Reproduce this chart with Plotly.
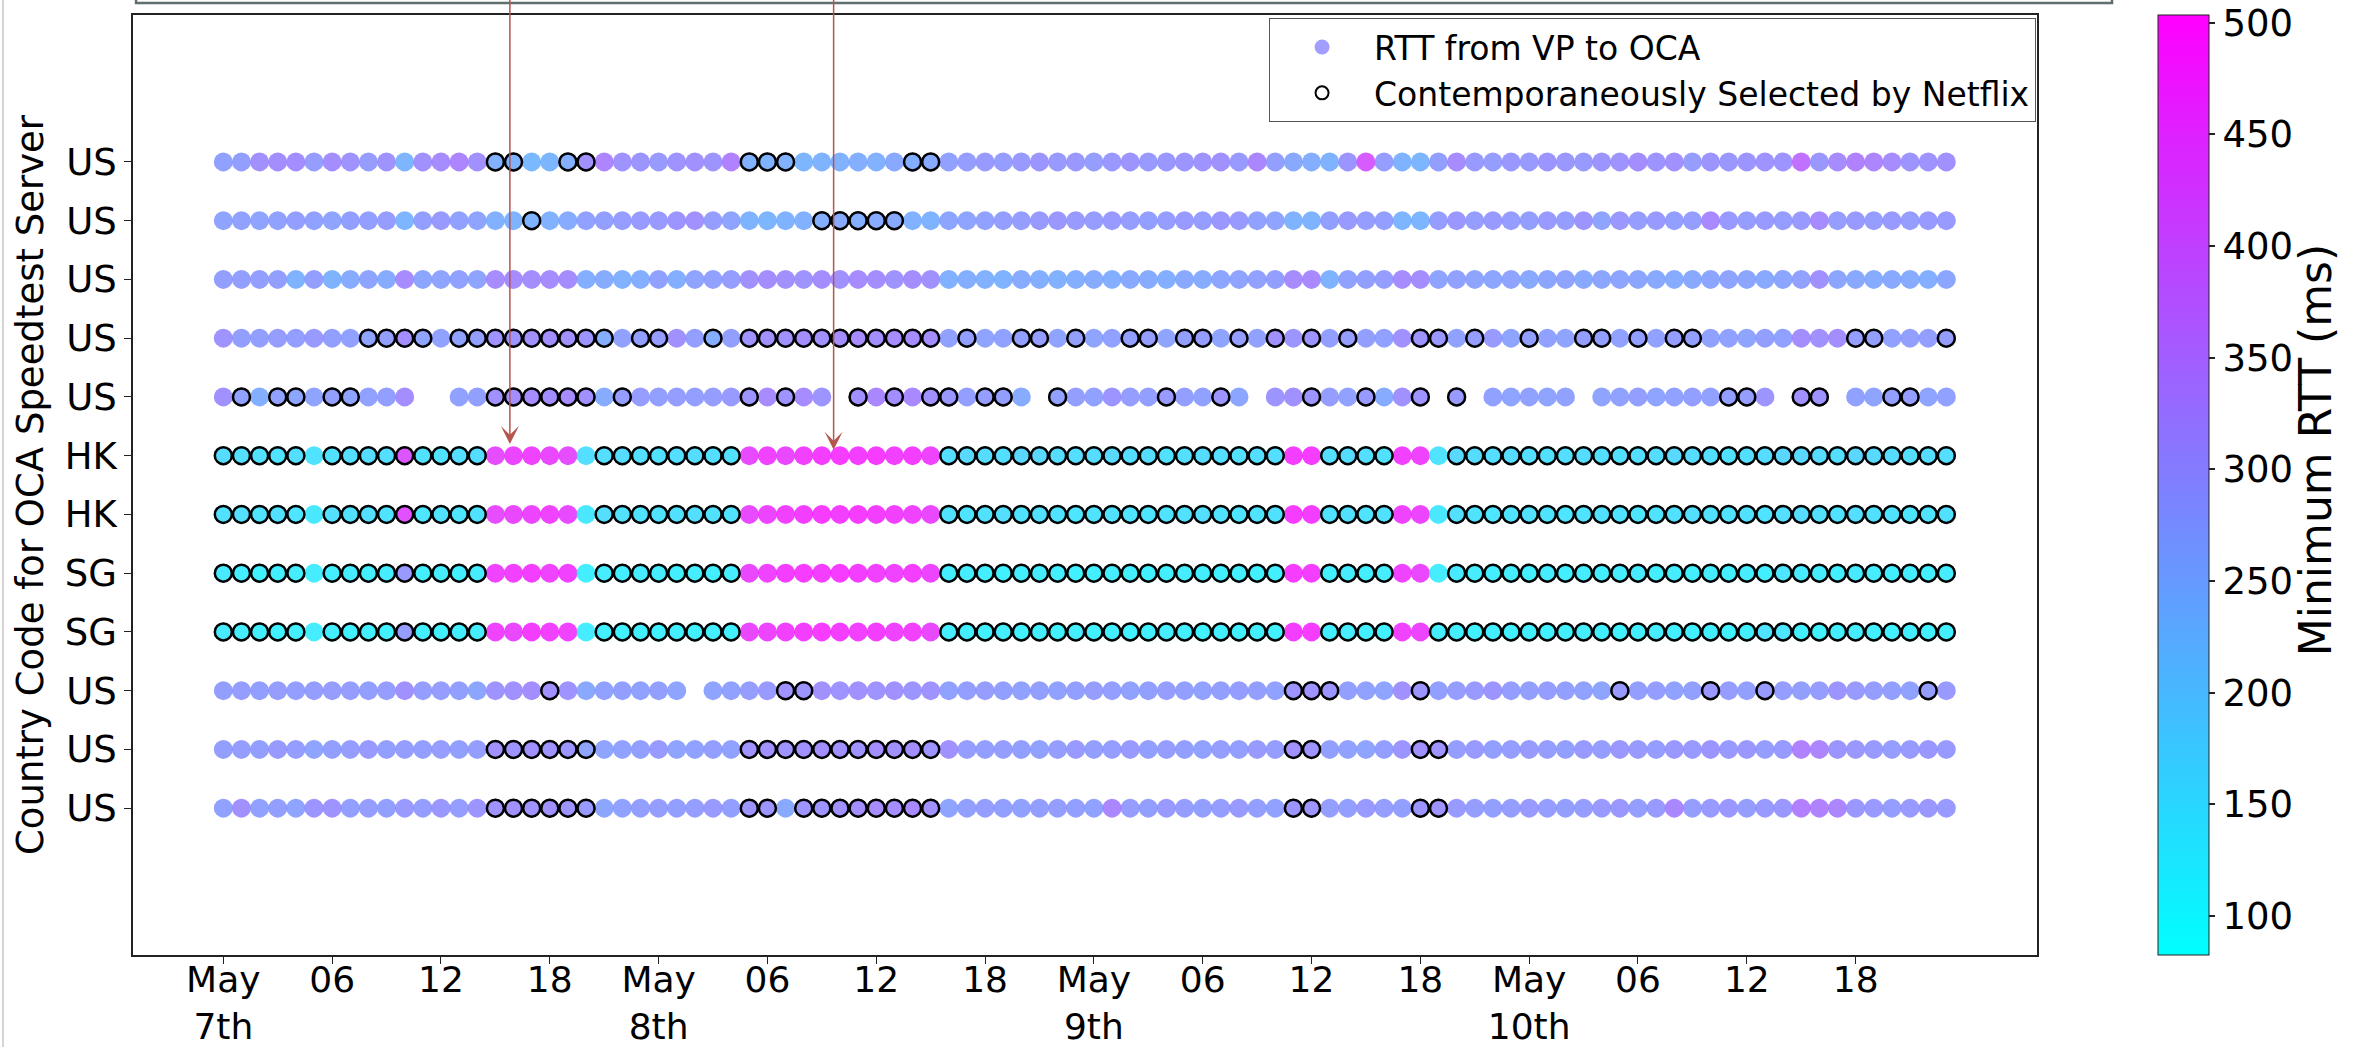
import pandas as pd
import plotly.graph_objects as go

# ---------------- data (rows listed top -> bottom) ----------------
row_labels = ["US", "US", "US", "US", "US", "HK", "HK", "SG", "SG", "US", "US", "US"]
start_time = "2021-05-07 00:00"
n_hours = 96

rtt_r1 = [275, 280, 310, 315, 315, 285, 315, 305, 285, 305, 235, 310,
          320, 335, 310, 245, 240, 230, 235, 250, 310, 335, 305, 300,
          290, 305, 310, 300, 340, 245, 240, 245, 235, 240, 245, 250,
          245, 260, 250, 255, 275, 285, 290, 285, 290, 300, 290, 295,
          285, 295, 300, 290, 295, 300, 305, 310, 290, 330, 280, 260,
          250, 240, 300, 420, 285, 240, 235, 280, 320, 290, 285, 295,
          290, 300, 295, 290, 300, 305, 315, 300, 310, 285, 300, 295,
          300, 305, 300, 375, 295, 320, 340, 335, 320, 300, 305, 310]
rtt_r2 = [270, 275, 270, 275, 280, 275, 270, 280, 280, 285, 235, 280,
          290, 275, 270, 245, 240, 240, 245, 255, 275, 280, 285, 290,
          290, 300, 310, 285, 270, 240, 235, 240, 245, 250, 255, 250,
          255, 260, 245, 240, 265, 270, 275, 280, 285, 290, 295, 290,
          285, 290, 285, 280, 285, 290, 285, 295, 290, 275, 270, 240,
          240, 280, 290, 285, 280, 235, 235, 285, 295, 285, 290, 285,
          280, 290, 285, 300, 270, 295, 285, 290, 280, 285, 325, 290,
          285, 290, 285, 290, 320, 285, 290, 285, 290, 285, 290, 290]
rtt_r3 = [280, 280, 280, 280, 240, 280, 240, 255, 270, 255, 320, 265,
          270, 275, 270, 320, 320, 315, 320, 320, 250, 255, 245, 250,
          275, 250, 270, 275, 285, 310, 315, 310, 305, 315, 310, 320,
          315, 305, 315, 310, 245, 250, 245, 240, 255, 250, 245, 250,
          255, 250, 260, 255, 250, 260, 255, 265, 270, 275, 280, 320,
          325, 240, 275, 280, 285, 320, 315, 270, 275, 270, 265, 270,
          260, 265, 270, 260, 265, 270, 265, 260, 255, 260, 265, 270,
          265, 260, 265, 275, 310, 265, 260, 255, 260, 255, 250, 265]
rtt_r4 = [305, 280, 280, 285, 280, 290, 280, 275, 270, 280, 315, 270,
          275, 275, 280, 305, 300, 310, 315, 310, 300, 250, 275, 280,
          285, 310, 280, 250, 280, 305, 310, 310, 315, 310, 315, 320,
          315, 320, 320, 315, 275, 280, 270, 275, 280, 285, 270, 280,
          270, 275, 280, 285, 270, 280, 285, 270, 285, 275, 310, 300,
          300, 280, 285, 280, 275, 310, 305, 295, 275, 285, 290, 270,
          280, 275, 270, 285, 280, 275, 280, 275, 285, 280, 275, 275,
          270, 280, 275, 315, 310, 315, 285, 280, 275, 280, 280, 285]
rtt_r5 = [310, 275, 250, 275, 265, 270, 280, 270, 275, 280, 315, None,
          None, 275, 280, 310, 315, 320, 315, 320, 310, 255, 285, 285,
          280, 285, 280, 285, 290, 300, 320, 305, 320, 300, None, 310,
          330, 315, 325, 310, 295, 280, 285, 280, 255, None, 275, 280,
          275, 300, 285, 280, 290, 280, 275, 300, 265, None, 300, 310,
          300, 285, 275, 290, 255, 310, 305, None, 290, None, 275, 270,
          275, 270, 275, None, 270, 275, 280, 270, 275, 280, 275, 280,
          285, 300, None, 310, 305, None, 275, 270, 280, 285, 270, 275]
rtt_r6 = [155, 150, 145, 140, 150, 140, 145, 150, 155, 150, 430, 145,
          140, 150, 150, 450, 465, 470, 460, 450, 150, 150, 155, 150,
          145, 150, 155, 150, 145, 455, 470, 460, 475, 480, 485, 480,
          485, 475, 480, 470, 150, 160, 155, 150, 165, 160, 155, 150,
          155, 160, 150, 155, 145, 150, 155, 150, 145, 150, 150, 480,
          485, 150, 155, 150, 145, 475, 470, 140, 160, 155, 150, 155,
          150, 145, 150, 155, 150, 145, 150, 155, 160, 155, 150, 145,
          150, 155, 165, 160, 155, 150, 165, 160, 155, 150, 155, 150]
rtt_r7 = [145, 150, 140, 145, 135, 130, 150, 145, 150, 140, 440, 135,
          140, 135, 140, 450, 460, 465, 470, 455, 130, 150, 145, 140,
          140, 145, 150, 145, 140, 455, 465, 475, 480, 485, 480, 485,
          480, 475, 470, 460, 145, 140, 145, 150, 140, 145, 140, 135,
          140, 145, 140, 135, 140, 145, 150, 140, 135, 140, 145, 485,
          480, 140, 145, 140, 145, 470, 465, 130, 150, 140, 135, 140,
          145, 140, 135, 140, 145, 140, 135, 140, 145, 150, 145, 140,
          145, 140, 150, 155, 145, 140, 150, 145, 140, 135, 140, 145]
rtt_r8 = [125, 115, 110, 115, 120, 120, 115, 120, 115, 120, 290, 115,
          120, 115, 120, 470, 475, 480, 470, 475, 115, 120, 115, 125,
          120, 115, 120, 115, 120, 460, 470, 480, 485, 480, 485, 480,
          475, 470, 480, 465, 115, 120, 115, 110, 115, 120, 115, 110,
          115, 120, 115, 110, 115, 120, 115, 110, 115, 110, 115, 485,
          480, 115, 120, 115, 120, 470, 460, 120, 125, 120, 115, 120,
          115, 120, 115, 120, 115, 120, 125, 115, 120, 115, 120, 115,
          120, 115, 135, 125, 120, 115, 125, 120, 115, 120, 115, 120]
rtt_r9 = [125, 120, 115, 110, 115, 120, 115, 110, 115, 110, 285, 115,
          110, 115, 120, 470, 460, 480, 475, 470, 120, 115, 110, 115,
          110, 115, 110, 115, 110, 460, 465, 475, 480, 485, 480, 475,
          480, 470, 475, 460, 120, 115, 110, 115, 110, 115, 110, 115,
          110, 115, 110, 115, 120, 115, 110, 115, 110, 115, 110, 480,
          485, 115, 120, 115, 110, 470, 465, 120, 115, 110, 115, 110,
          115, 110, 115, 120, 115, 110, 115, 120, 115, 110, 115, 110,
          115, 140, 135, 115, 110, 115, 120, 115, 110, 115, 110, 115]
rtt_r10 = [280, 285, 280, 285, 280, 285, 285, 285, 280, 285, 310, 285,
           285, 280, 265, 305, 310, 315, 310, 305, 260, 275, 280, 275,
           280, 270, None, 270, 275, 285, 290, 305, 300, 310, 305, 310,
           305, 310, 300, 305, 275, 280, 285, 280, 275, 280, 275, 280,
           285, 280, 275, 280, 285, 280, 275, 280, 285, 280, 275, 300,
           305, 300, 280, 275, 270, 310, 300, 280, 285, 290, 300, 285,
           280, 285, 280, 275, 270, 290, 280, 285, 275, 280, 295, 285,
           280, 290, 285, 280, 285, 300, 290, 285, 280, 275, 285, 290]
rtt_r11 = [280, 285, 280, 290, 285, 270, 280, 285, 290, 280, 285, 280,
           285, 280, 285, 310, 305, 310, 305, 300, 270, 270, 275, 280,
           290, 270, 275, 280, 275, 305, 310, 305, 310, 315, 310, 305,
           315, 310, 315, 305, 310, 285, 280, 285, 280, 275, 285, 290,
           280, 285, 290, 280, 285, 280, 275, 285, 280, 290, 285, 310,
           305, 280, 275, 270, 280, 300, 310, 305, 285, 290, 280, 285,
           290, 285, 280, 290, 285, 295, 290, 285, 295, 290, 300, 290,
           295, 285, 290, 340, 335, 300, 295, 290, 285, 290, 295, 290]
rtt_r12 = [275, 310, 275, 280, 270, 300, 305, 280, 285, 280, 290, 285,
           295, 285, 300, 305, 310, 305, 310, 305, 290, 265, 275, 280,
           285, 280, 285, 290, 280, 305, 300, 260, 300, 305, 310, 315,
           320, 315, 325, 310, 270, 280, 285, 280, 275, 280, 285, 280,
           275, 330, 285, 280, 290, 285, 280, 285, 290, 280, 275, 300,
           305, 285, 280, 290, 285, 280, 300, 305, 290, 285, 280, 285,
           290, 285, 280, 285, 290, 295, 285, 290, 330, 285, 290, 295,
           285, 290, 295, 345, 340, 335, 295, 290, 285, 290, 295, 290]

# hours (index from May 7th 00:00) at which Netflix selected the server
sel_r1 = [15, 16, 19, 20, 29, 30, 31, 38, 39]
sel_r2 = [17, 33, 34, 35, 36, 37]
sel_r3 = []
sel_r4 = [8, 9, 10, 11, 13, 14, 15, 16, 17, 18, 19, 20, 21, 23, 24, 27, 29, 30, 31, 32,
          33, 34, 35, 36, 37, 38, 39, 41, 44, 45, 47, 50, 51, 53, 54, 56, 58, 60, 62,
          66, 67, 69, 72, 75, 76, 78, 80, 81, 90, 91, 95]
sel_r5 = [1, 3, 4, 6, 7, 15, 16, 17, 18, 19, 20, 22, 29, 31, 35, 37, 39, 40, 42, 43,
          46, 52, 55, 60, 63, 66, 68, 83, 84, 87, 88, 92, 93]
sel_r6 = [0, 1, 2, 3, 4, 6, 7, 8, 9, 10, 11, 12, 13, 14, 21, 22, 23, 24, 25, 26, 27, 28,
          40, 41, 42, 43, 44, 45, 46, 47, 48, 49, 50, 51, 52, 53, 54, 55, 56, 57, 58,
          61, 62, 63, 64, 68, 69, 70, 71, 72, 73, 74, 75, 76, 77, 78, 79, 80, 81, 82,
          83, 84, 85, 86, 87, 88, 89, 90, 91, 92, 93, 94, 95]
sel_r7 = list(sel_r6)
sel_r8 = list(sel_r6)
sel_r9 = [0, 1, 2, 3, 4, 6, 7, 8, 9, 10, 11, 12, 13, 14, 21, 22, 23, 24, 25, 26, 27, 28,
          40, 41, 42, 43, 44, 45, 46, 47, 48, 49, 50, 51, 52, 53, 54, 55, 56, 57, 58,
          61, 62, 63, 64, 67, 68, 69, 70, 71, 72, 73, 74, 75, 76, 77, 78, 79, 80, 81, 82,
          83, 84, 85, 86, 87, 88, 89, 90, 91, 92, 93, 94, 95]
sel_r10 = [18, 31, 32, 59, 60, 61, 66, 77, 82, 85, 94]
sel_r11 = [15, 16, 17, 18, 19, 20, 29, 30, 31, 32, 33, 34, 35, 36, 37, 38, 39, 59, 60, 66, 67]
sel_r12 = [15, 16, 17, 18, 19, 20, 29, 30, 32, 33, 34, 35, 36, 37, 38, 39, 59, 60, 66, 67]

rtt_rows = [rtt_r1, rtt_r2, rtt_r3, rtt_r4, rtt_r5, rtt_r6, rtt_r7, rtt_r8, rtt_r9,
            rtt_r10, rtt_r11, rtt_r12]
sel_rows = [sel_r1, sel_r2, sel_r3, sel_r4, sel_r5, sel_r6, sel_r7, sel_r8, sel_r9,
            sel_r10, sel_r11, sel_r12]

# x tick labels
tick_hours = [0, 6, 12, 18, 24, 30, 36, 42, 48, 54, 60, 66, 72, 78, 84, 90]
tick_text = ["May<br>7th", "06", "12", "18", "May<br>8th", "06", "12", "18",
             "May<br>9th", "06", "12", "18", "May<br>10th", "06", "12", "18"]
day_hours = [0, 24, 48, 72]
cbar_ticks = [100, 150, 200, 250, 300, 350, 400, 450, 500]
rtt_min, rtt_max = 82.5, 503.4
cbar_title = "Minimum RTT (ms)"

# annotation arrows (time, tip row-position)
arrow_times = ["2021-05-07 15:48", "2021-05-08 09:39"]
arrow_tips = [6.2, 6.1]

# ---------------- build ----------------
t0 = pd.Timestamp(start_time)
hours = pd.date_range(t0, periods=n_hours, freq="h")
n_rows = len(row_labels)

xs, ys, cs = [], [], []
sx, sy = [], []
for i, (vals, sel) in enumerate(zip(rtt_rows, sel_rows)):
    ypos = n_rows - 1 - i
    for h, v in enumerate(vals):
        if v is None:
            continue
        xs.append(hours[h]); ys.append(ypos); cs.append(v)
    for h in sel:
        if vals[h] is not None:
            sx.append(hours[h]); sy.append(ypos)

cool = [[0.0, "rgb(0,255,255)"], [1.0, "rgb(255,0,255)"]]
FONT = "DejaVu Sans"

fig = go.Figure()
fig.add_trace(go.Scatter(
    x=xs, y=ys, mode="markers", showlegend=False,
    marker=dict(size=19, color=cs, colorscale=cool, cmin=rtt_min, cmax=rtt_max,
                opacity=0.8, line=dict(width=0),
                colorbar=dict(
                    tickvals=cbar_ticks, tickfont=dict(size=37, family=FONT, color="black"),
                    thickness=51, len=1, lenmode="fraction", x=1.0636, xanchor="left",
                    y=0.5, yanchor="middle", ypad=0, xpad=0,
                    outlinewidth=1, outlinecolor="#222",
                    ticks="outside", ticklen=6, tickcolor="#222", tickwidth=1.5)),
))
fig.add_trace(go.Scatter(
    x=sx, y=sy, mode="markers", showlegend=False,
    marker=dict(size=17, symbol="circle-open", color="black", line=dict(width=2.5)),
))
# legend entries
fig.add_trace(go.Scatter(
    x=[None], y=[None], mode="markers", name="RTT from VP to OCA", xaxis="x2",
    marker=dict(size=15, color="#a19eff"),
))
fig.add_trace(go.Scatter(
    x=[None], y=[None], mode="markers", name="Contemporaneously Selected by Netflix",
    xaxis="x2",
    marker=dict(size=13, symbol="circle-open", color="black", line=dict(width=2)),
))

x_range = [t0 - pd.Timedelta(hours=4.98), t0 + pd.Timedelta(hours=100.0)]

fig.update_layout(
    width=2361, height=1047,
    margin=dict(l=133, r=324, t=15, b=92, autoexpand=False),
    paper_bgcolor="white", plot_bgcolor="white",
    font=dict(family=FONT, size=37, color="black"),
    xaxis=dict(
        range=x_range, tickvals=[hours[h] for h in tick_hours], ticktext=tick_text,
        showgrid=False, zeroline=False, showline=True, mirror=True,
        linecolor="#222", linewidth=1.5, ticks="outside", ticklen=7,
        tickcolor="#222", tickwidth=1.2, tickfont=dict(size=36), tickangle=0,
        ticklabelstandoff=-15,
    ),
    xaxis2=dict(
        overlaying="x", matches="x", range=x_range,
        tickvals=[hours[h] for h in day_hours], showticklabels=False, ticks="",
        showgrid=True, gridcolor="#c8c8c8", gridwidth=1.5, griddash="18px,4px",
        showline=False, zeroline=False,
    ),
    yaxis=dict(
        range=[-2.5, 13.5], tickvals=list(range(n_rows)),
        ticktext=list(reversed(row_labels)), showgrid=False, zeroline=False,
        showline=True, mirror=True, linecolor="#222", linewidth=1.5,
        ticks="outside", ticklen=7, tickcolor="#222", tickwidth=1.2,
        tickfont=dict(size=37),
        title=dict(text="Country Code for OCA Speedtest Server", font=dict(size=37),
                   standoff=10),
    ),
    legend=dict(
        x=0.9995, xanchor="right", y=0.9968, yanchor="top",
        bgcolor="rgba(255,255,255,0.8)", bordercolor="#555", borderwidth=1,
        font=dict(size=33, family=FONT, color="black"), itemsizing="trace",
        itemwidth=94, tracegroupgap=0,
    ),
    shapes=[
        dict(type="rect", xref="paper", yref="paper", x0=0.0016, x1=1.0394,
             y0=1.0128, y1=1.3, line=dict(color="#5f6e6e", width=2.5),
             fillcolor="rgba(0,0,0,0)", layer="above"),
        dict(type="line", xref="paper", yref="paper", x0=-0.0683, x1=-0.0683,
             y0=-0.2, y1=1.2, line=dict(color="#d4d4d4", width=2)),
    ],
    annotations=[
        dict(x=t, y=tip, ax=t, ay=13.85, xref="x", yref="y", axref="x", ayref="y",
             showarrow=True, arrowhead=3, arrowsize=2, arrowwidth=1.5,
             arrowcolor="#b5554d", text="", standoff=0)
        for t, tip in zip(arrow_times, arrow_tips)
    ] + [
        dict(text=cbar_title, xref="paper", yref="paper", x=1.146, y=0.537,
             xanchor="center", yanchor="middle", textangle=-90, showarrow=False,
             font=dict(size=44, family=FONT, color="black")),
    ],
)

fig.write_html("out.html", config={"displayModeBar": False},
               post_script="document.body.style.margin='0px';")
